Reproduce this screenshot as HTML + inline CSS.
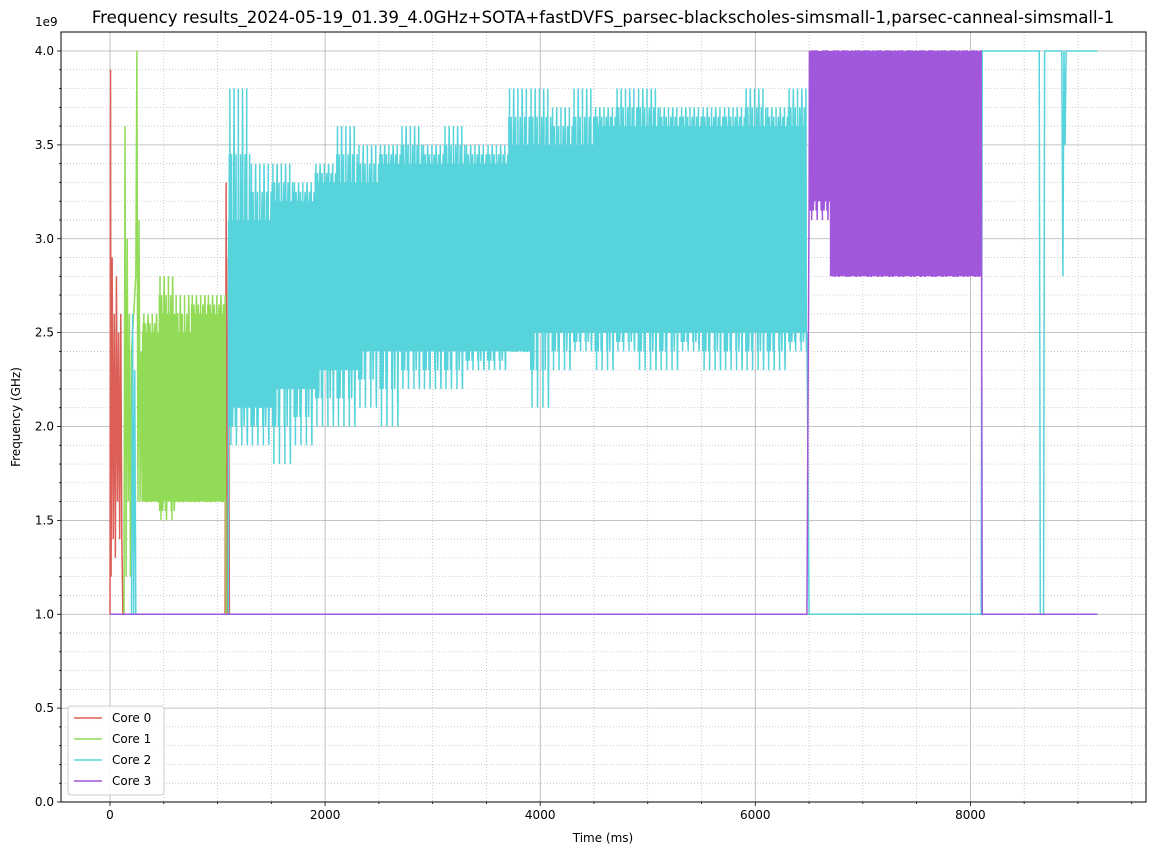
<!DOCTYPE html>
<html><head><meta charset="utf-8"><style>
body{margin:0;background:#fff;width:1159px;height:855px;overflow:hidden;font-family:"Liberation Sans","DejaVu Sans",sans-serif;}
svg text{font-family:"DejaVu Sans","Liberation Sans",sans-serif;}
</style></head><body>
<svg id="chart" width="1159" height="855" xmlns="http://www.w3.org/2000/svg">
<g id="grid"></g>
<g id="series"></g>
<g id="axes"></g>
</svg>
<script>
// ---- data ----
const xTicks = [0, 2000, 4000, 6000, 8000];
const yTicks = [0.0, 0.5, 1.0, 1.5, 2.0, 2.5, 3.0, 3.5, 4.0];
const seriesNames = ["Core 0", "Core 1", "Core 2", "Core 3"];
const seriesColors = ["#db5f57", "#91db57", "#57d3db", "#a157db"];
const core0T = [0, 5, 10, 20, 30, 40, 50, 60, 70, 80, 90, 100, 110, 120, 1070, 1080, 1090, 1100, 1110];
const core0V = [1.0, 3.9, 1.2, 2.9, 1.4, 2.6, 1.3, 2.8, 1.6, 2.5, 1.4, 2.6, 1.4, 1.0, 1.0, 3.3, 1.0, 2.9, 1.0];
const core1T = [0, 130, 140, 150, 160, 170, 180, 190, 200, 240, 250, 260, 270, 280, 290];
const core1V = [1.0, 1.0, 3.6, 1.2, 3.0, 1.6, 2.6, 1.2, 2.4, 2.8, 4.0, 1.6, 3.1, 1.6, 2.4];
const core1BinT = [300, 450, 600, 750, 900];
const core1CoreLo = [1.6, 1.6, 1.6, 1.6, 1.6];
const core1CoreHi = [2.5, 2.6, 2.5, 2.6, 2.6];
const core1SpLo = [1.6, 1.5, 1.6, 1.6, 1.6];
const core1SpHi = [2.6, 2.8, 2.7, 2.7, 2.7];
const core1End = 1080;
const core2PreT = [0, 200, 210, 220, 230, 240, 250, 1100];
const core2PreV = [1.0, 1.0, 2.6, 1.0, 2.3, 1.0, 1.0, 1.0];
const core2BinT = [1100,1300,1500,1700,1900,2100,2300,2500,2700,2900,3100,3300,3500,3700,3900,4100,4300,4500,4700,4900,5100,5300,5500,5700,5900,6100,6300];
const core2CoreLo = [2.1,2.1,2.2,2.2,2.3,2.3,2.4,2.4,2.4,2.4,2.4,2.4,2.4,2.4,2.5,2.5,2.5,2.5,2.5,2.5,2.5,2.5,2.5,2.5,2.5,2.5,2.5];
const core2CoreHi = [3.1,3.1,3.2,3.2,3.3,3.3,3.3,3.4,3.4,3.4,3.4,3.4,3.4,3.5,3.5,3.5,3.5,3.6,3.6,3.6,3.6,3.6,3.6,3.6,3.6,3.6,3.6];
const core2SpLo = [1.9,1.9,1.8,1.9,2.0,2.0,2.1,2.0,2.2,2.2,2.2,2.3,2.3,2.4,2.1,2.3,2.4,2.3,2.4,2.3,2.3,2.4,2.3,2.3,2.3,2.3,2.4];
const core2SpHi = [3.8,3.4,3.4,3.3,3.4,3.6,3.5,3.5,3.6,3.5,3.6,3.5,3.5,3.8,3.8,3.7,3.8,3.7,3.8,3.8,3.7,3.7,3.7,3.7,3.8,3.7,3.8];
const core2End = 6480;
const core2PostT = [6480, 6500, 8100, 8110, 8640, 8650, 8680, 8690, 8850, 8860, 8870, 8880, 8890, 8900, 9180];
const core2PostV = [2.5, 1.0, 1.0, 4.0, 4.0, 1.0, 1.0, 4.0, 4.0, 2.8, 4.0, 3.5, 4.0, 4.0, 4.0];
const core3PreT = [0, 6480];
const core3PreV = [1.0, 1.0];
const core3BinT = [6500, 6600, 6700, 6900, 7100, 7300, 7500, 7700, 7900];
const core3CoreLo = [3.2, 3.2, 2.8, 2.8, 2.8, 2.8, 2.8, 2.8, 2.8];
const core3CoreHi = [4.0, 4.0, 4.0, 4.0, 4.0, 4.0, 4.0, 4.0, 4.0];
const core3SpLo = [3.1, 3.1, 2.8, 2.8, 2.8, 2.8, 2.8, 2.8, 2.8];
const core3SpHi = [4.0, 4.0, 4.0, 4.0, 4.0, 4.0, 4.0, 4.0, 4.0];
const core3End = 8100;
const core3PostT = [8100, 8110, 9180];
const core3PostV = [4.0, 1.0, 1.0];

// ---- axes ----
const L = 61, R = 1146, T = 32, B = 802;
const xS = v => 110 + v * 0.10755;
const yS = v => 802 - v * 187.75;
const NS = "http://www.w3.org/2000/svg";
function mk(tag, attrs, parent) { const e = document.createElementNS(NS, tag); for (const k in attrs) e.setAttribute(k, attrs[k]); parent.appendChild(e); return e; }
const grid = document.getElementById('grid'), axes = document.getElementById('axes'), ser = document.getElementById('series');

for (let v = -500; v <= 9500; v += 500) {
  const x = xS(v); if (x < L || x > R) continue;
  const major = v % 2000 === 0;
  const g = mk('line', {x1:x, x2:x, y1:T, y2:B, stroke: major ? '#b0b0b0' : '#b8b8b8', 'stroke-width': major ? 0.8 : 0.7, 'stroke-dasharray': major ? '' : '1,2'}, grid);
  
  
  const t = mk('line', {x1:x, x2:x, y1:B, y2:B + (major ? 4 : 2), stroke:'#000', 'stroke-width':0.8}, axes);
  
  
}
for (let i = 0; i <= 40; i++) {
  const v = i / 10, y = yS(v); if (y < T) continue;
  const major = i % 5 === 0;
  const g = mk('line', {x1:L, x2:R, y1:y, y2:y, stroke: major ? '#b0b0b0' : '#b8b8b8', 'stroke-width': major ? 0.8 : 0.7, 'stroke-dasharray': major ? '' : '1,2'}, grid);
  
  
  const t = mk('line', {x1:L - (major ? 4 : 2), x2:L, y1:y, y2:y, stroke:'#000', 'stroke-width':0.8}, axes);
  
  
}
xTicks.forEach(v => {
  const t = mk('text', {x:xS(v), y:B + 17, 'font-size':12, 'text-anchor':'middle', fill:'#000'}, axes);
  t.textContent = v;
  
  
});
yTicks.forEach(v => {
  const t = mk('text', {x:L - 7, y:yS(v) + 4, 'font-size':12, 'text-anchor':'end', fill:'#000'}, axes);
  t.textContent = v.toFixed(1);
  
  
});
const sp = mk('rect', {x:L, y:T, width:R - L, height:B - T, fill:'none', stroke:'#000', 'stroke-width':1}, axes);


let tx;
tx = mk('text', {x:603, y:842, 'font-size':12, 'text-anchor':'middle'}, axes); tx.textContent = 'Time (ms)';


tx = mk('text', {x:20, y:417, 'font-size':12, 'text-anchor':'middle', transform:'rotate(-90 20 417)'}, axes); tx.textContent = 'Frequency (GHz)';


tx = mk('text', {x:35, y:26, 'font-size':12}, axes); tx.textContent = '1e9';


tx = mk('text', {x:603, y:23, 'font-size':16.6, 'text-anchor':'middle'}, axes); tx.textContent = 'Frequency results_2024-05-19_01.39_4.0GHz+SOTA+fastDVFS_parsec-blackscholes-simsmall-1,parsec-canneal-simsmall-1';



// ---- series ----
function stepPts(ts, vs) { const p = []; for (let i = 0; i < ts.length; i++) { p.push([ts[i], vs[i]]); } return p; }
function bandPts(binT, lo, hi, spLo, spHi, end) {
  const p = [];
  for (let i = 0; i < binT.length; i++) {
    const s = binT[i], e = i + 1 < binT.length ? binT[i + 1] : end;
    const pHi = i > 0 ? hi[i - 1] : hi[i], pLo = i > 0 ? lo[i - 1] : lo[i];
    let k = 0;
    for (let t = s; t < e; t += 3, k++) {
      let v = (k % 2) ? hi[i] : lo[i];
      if (k % 13 === 5) v = spHi[i];
      else if (k % 17 === 8) v = spLo[i];
      else if (k % 7 === 3) v = (hi[i] + spHi[i]) / 2;
      else if (k % 9 === 4) v = (lo[i] + spLo[i]) / 2;
      else if (k < 25 && k % 4 === 1) v = pHi;
      else if (k < 25 && k % 4 === 2) v = pLo;
      p.push([t, v]);
    }
  }
  return p;
}
function draw(pts, color, name) {
  let d = '';
  pts.forEach((q, i) => { d += (i ? 'L' : 'M') + xS(q[0]).toFixed(2) + ' ' + yS(q[1]).toFixed(2); });
  const e = mk('path', {d:d, fill:'none', stroke:color, 'stroke-width':1.5, 'stroke-linejoin':'miter'}, ser);
  
  
}
draw(stepPts(core0T, core0V), seriesColors[0], 'core-0-line');
draw(stepPts(core1T, core1V).concat(bandPts(core1BinT, core1CoreLo, core1CoreHi, core1SpLo, core1SpHi, core1End), [[core1End, 1.0], [1100, 1.0], [9180, 1.0]]), seriesColors[1], 'core-1-line');
draw(stepPts(core2PreT, core2PreV).concat(bandPts(core2BinT, core2CoreLo, core2CoreHi, core2SpLo, core2SpHi, core2End), stepPts(core2PostT, core2PostV)), seriesColors[2], 'core-2-line');
draw(stepPts(core3PreT, core3PreV).concat(bandPts(core3BinT, core3CoreLo, core3CoreHi, core3SpLo, core3SpHi, core3End), stepPts(core3PostT, core3PostV)), seriesColors[3], 'core-3-line');

// ---- legend ----
const lg = mk('g', {}, axes);


mk('rect', {x:68, y:706, width:96, height:89, rx:3, fill:'#fff', 'fill-opacity':0.85, stroke:'#ccc'}, lg);
seriesNames.forEach((n, i) => {
  const y = 718 + i * 21;
  const g = mk('g', {}, lg);
  
  
  mk('line', {x1:74, x2:102, y1:y, y2:y, stroke:seriesColors[i], 'stroke-width':1.5}, g);
  const t = mk('text', {x:112, y:y + 4, 'font-size':12}, g); t.textContent = n;
});
</script>
</body></html>
